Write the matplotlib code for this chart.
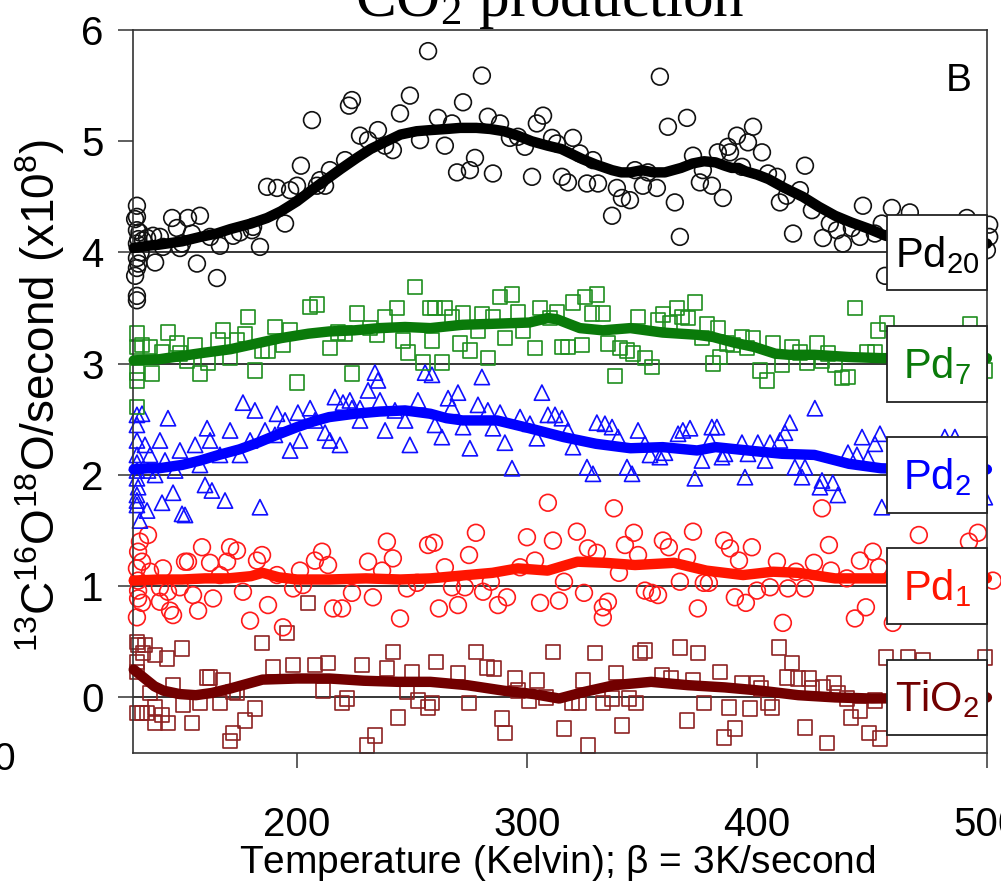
import matplotlib
matplotlib.use("Agg")
import matplotlib.pyplot as plt
from matplotlib.patches import Rectangle

plt.rcParams['font.family'] = ['Liberation Sans', 'DejaVu Sans']
plt.rcParams['mathtext.default'] = 'regular'

# ---- data: (temperature K, signal x1e8) pairs, plotted with a vertical offset per sample
series_names = ['TiO$_2$', 'Pd$_1$', 'Pd$_2$', 'Pd$_7$', 'Pd$_{20}$']
offsets = [0, 1, 2, 3, 4]

tio2_points = [(130.4,0.50),(130.9,0.47),(133.9,0.47),(130.4,0.32),(130.4,0.23),(130.4,-0.14),(132.6,-0.14),
    (133.0,0.40),(138.3,0.38),(143.5,0.35),(150.0,0.44),(146.1,0.11),(136.1,0.04),(138.3,-0.09),(134.8,-0.14),
    (138.3,-0.23),(141.3,-0.16),(143.9,-0.23),(150.4,-0.07),(154.3,-0.23),(160.9,0.18),(162.2,0.18),(167.8,0.15),
    (157.8,-0.05),(166.5,-0.05),(172.2,0.05),(177.4,-0.21),(181.7,-0.10),(173.9,0.04),(184.8,0.49),(189.6,0.27),
    (195.7,0.58),(198.3,0.29),(204.8,0.85),(207.8,0.29),(213.5,0.31),(211.3,0.06),(219.6,-0.05),(228.3,0.29),
    (221.7,-0.01),(230.4,-0.43),(233.9,-0.34),(241.7,0.41),(239.1,0.26),(243.9,-0.18),(247.8,0.05),(250.0,0.23),
    (252.6,-0.03),(257.0,-0.09),(170.9,-0.39),(172.2,-0.32),(260.4,0.32),(277.8,0.41),(270.0,0.22),(282.6,0.27),
    (285.7,0.26),(294.8,0.17),(304.3,0.15),(311.3,0.41),(329.6,0.40),(338.7,0.22),(324.3,0.15),(349.1,0.40),
    (351.3,0.42),(366.5,0.45),(374.3,0.40),(383.9,0.23),(358.7,0.20),(362.6,0.17),(372.2,0.15),(258.7,-0.05),
    (274.8,-0.05),(296.1,0.06),(300.9,-0.03),(308.3,0.00),(319.6,-0.05),(322.6,-0.05),(333.0,-0.05),(337.0,-0.01),
    (344.3,-0.01),(347.4,-0.05),(377.0,-0.05),(387.8,-0.09),(397.0,-0.10),(404.8,-0.05),(406.5,-0.09),(289.1,-0.19),
    (290.4,-0.32),(316.1,-0.28),(341.3,-0.25),(326.5,-0.43),(369.6,-0.21),(385.7,-0.36),(390.4,-0.28),(409.6,0.45),
    (415.2,0.31),(413.0,0.18),(417.8,0.17),(422.6,0.17),(393.5,0.13),(400.0,0.13),(401.7,0.08),(423.9,0.08),
    (428.7,0.09),(433.5,0.13),(435.2,0.04),(439.1,-0.01),(420.9,-0.27),(430.4,-0.41),(440.9,-0.18),(444.8,-0.12),
    (448.7,-0.32),(453.5,-0.37),(456.1,0.36),(451.3,-0.03),(465.7,0.36),(472.2,0.33),(499.1,0.36)]

pd1_points = [(135.2,0.46),(131.7,0.40),(130.9,0.31),(132.6,0.22),(130.4,0.16),(136.1,0.13),(141.7,0.16),
    (151.3,0.22),(152.6,0.22),(158.7,0.35),(162.2,0.21),(169.6,0.22),(170.9,0.35),(173.9,0.32),(182.6,0.23),
    (184.8,0.28),(191.3,0.10),(201.3,0.14),(207.8,0.23),(210.9,0.31),(213.5,0.19),(130.9,0.05),(130.9,-0.04),
    (130.9,-0.11),(132.6,-0.15),(130.4,-0.28),(140.4,-0.01),(143.9,-0.05),(140.4,-0.14),(144.8,-0.22),(146.1,-0.26),
    (154.8,-0.08),(157.0,-0.22),(149.1,-0.01),(163.5,-0.11),(166.5,0.10),(176.5,-0.05),(179.6,-0.31),(187.4,-0.17),
    (193.9,-0.37),(198.3,-0.02),(202.6,0.01),(215.7,-0.20),(219.6,-0.20),(223.9,-0.06),(230.9,0.22),(233.0,-0.10),
    (239.1,0.40),(241.7,0.25),(244.8,-0.29),(237.0,0.14),(247.8,-0.02),(252.2,0.03),(257.0,0.37),(309.1,0.75),
    (337.8,0.70),(428.3,0.70),(277.8,0.48),(300.0,0.44),(311.3,0.41),(321.7,0.49),(346.5,0.48),(359.1,0.41),
    (361.7,0.35),(372.2,0.49),(385.7,0.41),(388.3,0.34),(397.8,0.35),(431.3,0.37),(470.4,0.46),(496.1,0.48),
    (492.2,0.40),(259.6,0.39),(274.8,0.28),(264.3,0.17),(297.0,0.17),(303.5,0.23),(326.5,0.34),(330.4,0.30),
    (342.6,0.37),(348.3,0.28),(369.6,0.26),(392.2,0.23),(408.7,0.22),(424.8,0.21),(432.2,0.14),(444.8,0.23),
    (450.4,0.31),(453.0,0.17),(439.1,0.07),(417.0,0.13),(340.0,0.12),(267.4,-0.01),(273.0,-0.01),(280.9,-0.05),
    (284.3,0.04),(291.3,-0.10),(287.4,-0.17),(261.7,-0.20),(270.0,-0.17),(305.7,-0.15),(313.9,-0.13),(316.1,0.04),
    (324.8,-0.06),(333.0,-0.19),(335.2,-0.14),(333.0,-0.28),(351.3,-0.04),(354.3,-0.06),(357.0,-0.08),(366.5,0.04),
    (376.9,0.03),(379.1,0.03),(374.3,-0.20),(390.4,-0.10),(395.2,-0.15),(400.0,-0.04),(405.7,-0.01),(413.5,-0.02),
    (420.9,-0.02),(411.3,-0.33),(442.6,-0.29),(447.4,-0.19),(459.1,-0.33),(502.6,0.05)]

pd2_points = [(130.4,0.54),(130.4,0.45),(130.4,0.31),(130.4,0.18),(130.4,0.11),(130.4,0.04),(130.4,-0.03),
    (130.9,-0.11),(130.4,-0.18),(130.4,-0.27),(131.7,-0.41),(133.9,0.27),(135.2,0.04),(136.1,0.18),(138.3,0.00),
    (140.4,0.31),(142.6,0.13),(147.0,0.04),(149.1,0.22),(151.3,-0.36),(155.7,0.27),(157.8,0.09),(160.0,-0.09),
    (162.2,0.31),(166.5,0.18),(168.7,-0.23),(170.9,0.40),(175.2,0.18),(179.6,0.31),(181.7,0.58),(186.1,0.40),
    (190.4,0.36),(194.8,0.49),(197.0,0.22),(201.3,0.31),(207.8,0.49),(212.2,0.38),(214.3,0.31),(218.7,0.27),
    (223.0,0.67),(227.4,0.49),(233.9,0.92),(236.1,0.67),(238.3,0.40),(242.6,0.58),(247.0,0.49),(249.1,0.27),
    (252.6,0.67),(255.7,0.92),(132.6,0.55),(143.9,0.51),(176.5,0.65),(191.3,0.55),(200.4,0.56),(205.7,0.60),
    (216.5,0.70),(220.0,0.65),(223.9,0.60),(227.4,0.60),(235.2,0.85),(230.9,0.76),(160.9,0.42),(134.8,-0.32),
    (141.3,-0.25),(146.1,-0.16),(150.0,-0.35),(163.0,-0.14),(183.9,-0.29),(130.4,-0.23),(258.7,0.90),(280.4,0.88),
    (265.7,0.69),(270.0,0.74),(267.4,0.61),(278.7,0.63),(260.0,0.45),(263.0,0.34),(272.2,0.43),(275.2,0.24),
    (283.0,0.58),(285.2,0.42),(288.3,0.56),(290.4,0.29),(293.5,0.06),(297.0,0.52),(301.3,0.46),(304.3,0.33),
    (306.5,0.74),(309.1,0.54),(312.2,0.54),(315.2,0.51),(317.8,0.40),(320.0,0.25),(326.1,0.07),(328.7,0.01),
    (330.4,0.47),(333.9,0.46),(337.0,0.43),(339.6,0.34),(343.5,0.07),(345.7,0.01),(348.3,0.40),(351.3,0.28),
    (353.5,0.18),(357.8,0.16),(360.0,0.20),(365.7,0.37),(367.8,0.40),(370.9,0.42),(373.0,-0.03),(376.1,0.13),
    (379.6,0.31),(380.4,0.43),(382.6,0.43),(425.2,0.60),(414.3,0.47),(412.2,0.38),(410.0,0.31),(400.4,0.29),
    (405.7,0.29),(393.5,0.29),(386.1,0.19),(384.8,0.16),(396.1,0.19),(403.5,0.13),(416.5,0.07),(420.9,0.07),
    (394.8,-0.02),(419.6,-0.02),(428.3,-0.05),(433.0,-0.07),(435.2,-0.18),(427.4,-0.11),(439.6,0.20),(443.5,0.18),
    (448.3,0.15),(445.7,0.34),(451.3,0.28),(453.5,0.37),(481.7,0.34),(486.1,0.34),(499.1,-0.20),(454.3,-0.29)]

pd7_points = [(130.4,0.27),(130.4,0.15),(130.4,-0.08),(130.4,-0.15),(130.4,-0.39),(132.6,0.17),(136.1,0.15),
    (137.0,-0.09),(141.3,0.10),(143.9,0.28),(147.8,0.18),(149.1,0.09),(152.2,0.03),(155.7,0.17),(157.8,-0.09),
    (161.3,0.01),(165.7,0.21),(167.8,0.30),(170.9,0.05),(173.9,0.21),(177.4,0.26),(178.7,0.42),(181.7,-0.06),
    (184.8,0.12),(187.4,0.12),(190.4,0.33),(193.9,0.17),(197.0,0.30),(200.0,-0.17),(205.7,0.51),(208.7,0.53),
    (214.3,0.14),(217.8,0.28),(220.9,0.27),(223.9,-0.09),(226.1,0.45),(231.7,0.32),(234.8,0.26),(238.3,0.42),
    (243.5,0.50),(246.1,0.21),(248.3,0.10),(251.3,0.69),(254.8,0.01),(257.8,0.50),(260.0,0.50),(264.3,0.50),
    (267.4,0.42),(272.2,0.45),(280.4,0.44),(285.2,0.42),(258.7,0.21),(263.0,0.01),(270.9,0.18),(275.2,0.12),
    (278.7,0.30),(283.0,0.05),(288.3,0.60),(293.5,0.62),(296.1,0.46),(290.4,0.23),(298.3,0.30),(303.5,0.14),
    (305.7,0.50),(310.0,0.41),(313.0,0.46),(315.2,0.15),(317.8,0.15),(320.0,0.55),(323.9,0.17),(325.2,0.60),
    (330.4,0.62),(328.3,0.45),(333.0,0.45),(335.2,0.18),(338.3,-0.11),(340.4,0.14),(343.5,0.12),(346.1,0.09),
    (348.3,0.42),(351.3,0.05),(354.3,-0.03),(357.0,0.39),(359.1,0.44),(362.2,0.36),(365.2,0.50),(367.4,0.42),
    (370.0,0.41),(373.0,0.55),(376.1,0.23),(378.3,0.35),(380.9,0.00),(442.6,0.50),(383.0,0.32),(383.9,0.06),
    (387.0,0.18),(389.6,0.17),(393.5,0.24),(395.7,0.14),(398.3,0.23),(401.3,-0.06),(404.3,-0.15),(407.0,0.18),
    (410.9,-0.01),(415.2,0.15),(418.7,0.10),(421.7,0.01),(426.1,0.18),(428.3,0.03),(430.9,0.09),(433.9,-0.01),
    (437.0,-0.13),(439.6,-0.12),(447.8,0.10),(451.3,0.10),(452.6,0.30),(456.5,0.36),(492.6,0.35),(499.0,-0.06)]

pd20_points = [(129.6,0.30),(129.6,-0.21),(130.4,0.42),(130.4,0.32),(130.4,0.20),(130.4,0.08),(130.4,-0.05),
    (130.4,-0.14),(130.4,-0.39),(130.4,-0.43),(131.0,-0.10),(131.0,0.12),(131.5,0.18),(132.0,0.00),(133.0,0.11),
    (134.8,0.13),(137.4,0.15),(138.3,-0.09),(140.4,0.14),(141.7,0.05),(145.7,0.31),(147.8,0.22),(149.1,0.04),
    (150.0,0.08),(152.6,0.31),(154.3,0.17),(156.5,-0.10),(157.8,0.33),(162.2,0.14),(165.2,-0.23),(166.5,0.06),
    (172.2,0.15),(175.2,0.18),(180.4,0.20),(180.9,0.23),(183.9,0.05),(187.0,0.59),(191.3,0.58),(194.8,0.26),
    (197.0,0.56),(200.0,0.60),(201.7,0.78),(206.5,1.19),(208.7,0.60),(210.0,0.65),(212.2,0.60),(214.3,0.74),
    (220.9,0.83),(222.6,1.32),(223.9,1.37),(227.4,1.05),(230.9,1.01),(235.2,1.10),(238.3,0.96),(241.7,0.92),
    (244.8,1.25),(249.1,1.41),(253.5,1.01),(257.0,1.81),(261.3,1.21),(264.3,0.96),(267.4,1.16),(269.6,0.72),
    (272.2,1.35),(275.2,0.74),(277.4,0.85),(280.4,1.59),(283.0,1.22),(285.2,0.71),(288.3,1.16),(292.6,1.03),
    (296.1,1.04),(299.1,0.95),(302.2,0.68),(304.3,1.16),(307.0,1.23),(310.9,1.03),(313.0,0.98),(315.2,0.68),
    (317.8,0.63),(320.0,1.03),(323.0,0.89),(326.1,0.62),(328.7,0.83),(330.9,0.62),(337.0,0.33),(339.1,0.58),
    (341.3,0.49),(344.8,0.47),(347.0,0.74),(350.4,0.60),(352.6,0.72),(356.5,0.58),(357.8,1.58),(361.3,1.13),
    (364.3,0.45),(366.5,0.14),(369.6,1.21),(372.2,0.87),(375.2,0.63),(376.5,0.74),(380.4,0.60),(383.0,0.90),
    (385.2,0.49),(387.4,0.95),(388.3,0.90),(391.3,1.05),(393.5,0.77),(396.1,0.99),(398.3,1.13),(402.2,0.90),
    (404.8,0.71),(408.7,0.68),(410.0,0.45),(413.0,0.51),(415.7,0.17),(418.7,0.56),(420.9,0.78),(423.9,0.38),
    (428.7,0.13),(431.7,0.26),(434.8,0.20),(437.4,0.08),(441.3,0.22),(444.8,0.14),(446.1,0.42),(451.3,0.17),
    (454.3,0.26),(455.7,-0.21),(458.7,0.40),(466.5,0.36),(491.3,0.31),(500.0,0.02),(501.0,0.14),(501.0,0.25)]

# smoothed traces (temperature K, signal x1e8)
tio2_smooth = [(129,0.25),(132,0.20),(135,0.15),(138,0.10),(142,0.06),(149,0.03),(156,0.02),(163,0.04),
    (171,0.08),(178,0.12),(185,0.16),(200,0.17),(214,0.17),(229,0.15),(244,0.14),(258,0.14),(274,0.11),
    (290,0.06),(303,0.03),(314,-0.01),(325,0.05),(338,0.11),(354,0.14),(370,0.11),(386,0.09),(402,0.06),
    (418,0.02),(434,0.00),(450,-0.01),(500,0.00)]
pd1_smooth = [(129,0.05),(140,0.06),(150,0.06),(160,0.07),(170,0.07),(180,0.09),(185,0.12),(192,0.08),
    (200,0.06),(214,0.06),(230,0.07),(245,0.06),(258,0.07),(274,0.10),(285,0.12),(296,0.16),(309,0.14),
    (322,0.22),(334,0.21),(347,0.19),(364,0.21),(378,0.14),(394,0.10),(407,0.13),(418,0.12),(434,0.07),
    (450,0.07),(500,0.07)]
pd2_smooth = [(129,0.05),(135,0.06),(140,0.06),(150,0.09),(158,0.13),(166,0.18),(175,0.23),(183,0.29),
    (190,0.35),(200,0.43),(207,0.48),(214,0.52),(225,0.55),(236,0.57),(247,0.58),(258,0.55),(265,0.51),
    (272,0.49),(287,0.49),(301,0.42),(316,0.34),(330,0.28),(345,0.24),(359,0.25),(374,0.22),(382,0.25),
    (396,0.22),(411,0.19),(425,0.18),(440,0.10),(454,0.06),(470,0.05),(500,0.05)]
pd7_smooth = [(129,0.03),(140,0.04),(150,0.07),(160,0.10),(171,0.13),(182,0.18),(193,0.23),(205,0.27),
    (214,0.29),(225,0.30),(236,0.32),(247,0.33),(258,0.32),(272,0.35),(287,0.36),(301,0.37),(309,0.41),
    (313,0.40),(323,0.32),(333,0.30),(345,0.32),(352,0.30),(359,0.28),(374,0.26),(381,0.24),(390,0.19),
    (399,0.15),(408,0.09),(414,0.08),(425,0.08),(440,0.06),(454,0.05),(470,0.05),(500,0.05)]
pd20_smooth = [(129,0.04),(135,0.06),(140,0.07),(150,0.10),(158,0.14),(165,0.17),(171,0.21),(180,0.26),
    (187,0.31),(193,0.37),(200,0.46),(207,0.57),(213,0.66),(219,0.75),(226,0.85),(232,0.93),(239,1.00),
    (245,1.06),(252,1.09),(258,1.10),(265,1.11),(271,1.12),(278,1.12),(284,1.11),(290,1.09),(296,1.05),
    (302,1.00),(309,0.96),(315,0.93),(320,0.88),(324,0.84),(330,0.79),(337,0.74),(341,0.72),(345,0.72),
    (350,0.74),(355,0.72),(360,0.72),(367,0.76),(372,0.80),(377,0.82),(382,0.81),(386,0.78),(389,0.76),
    (392,0.76),(395,0.73),(400,0.70),(405,0.66),(412,0.58),(420,0.50),(427,0.41),(434,0.33),(441,0.27),
    (449,0.21),(456,0.15),(463,0.12),(480,0.09),(500,0.08)]

x_ticks = [200, 300, 400, 500]
y_ticks = [0, 1, 2, 3, 4, 5, 6]

points = [tio2_points, pd1_points, pd2_points, pd7_points, pd20_points]
smooths = [tio2_smooth, pd1_smooth, pd2_smooth, pd7_smooth, pd20_smooth]
marker_shapes = ['s', 'o', '^', 's', 'o']
marker_sizes = [110, 145, 120, 110, 145]
marker_colors = ['#8e2222', '#ff1a1a', '#1010ff', '#1f8f1f', '#111111']
line_colors = ['#720000', '#ff1500', '#0000ff', '#0a7a0a', '#000000']

fig = plt.figure(figsize=(10.01, 8.90), dpi=100)
ax = fig.add_axes([0.1329, 0.1539, 0.853, 0.8124])
ax.set_xlim(128.7, 500)
ax.set_ylim(-0.5, 6.0)

for off, pts, sm, mk, ms, mc, lc, name in zip(offsets, points, smooths, marker_shapes,
                                               marker_sizes, marker_colors, line_colors, series_names):
    ax.axhline(off, color='black', lw=1.1, zorder=1)
    tx = [p[0] for p in pts]
    ty = [p[1] + off for p in pts]
    ax.scatter(tx, ty, s=ms, marker=mk, facecolors='none', edgecolors=mc,
               linewidths=1.2, zorder=2, clip_on=False)
    lx = [p[0] for p in sm]
    ly = [p[1] + off for p in sm]
    ax.plot(lx, ly, color=lc, lw=7.5, solid_capstyle='round', solid_joinstyle='round',
            zorder=3, clip_on=False)
    ax.add_patch(Rectangle((456.5, off - 0.34), 500 - 456.5, 0.68, facecolor='white',
                           edgecolor='#222222', lw=1.3, zorder=5, clip_on=False))
    ax.text(478.5, off - 0.02, name, color=lc, fontsize=30, ha='center', va='center', zorder=6)

ax.set_xticks(x_ticks)
ax.set_yticks(y_ticks)
ax.set_xticklabels([str(t) for t in x_ticks])
ax.set_yticklabels([str(t) for t in y_ticks])
ax.tick_params(axis='both', direction='out', length=11, width=1.1, color='#333333', labelsize=29)
ax.tick_params(axis='x', pad=27)
ax.tick_params(axis='y', pad=10)
for sp in ax.spines.values():
    sp.set_color('#333333')
    sp.set_linewidth(1.2)

ax.text(0.982, 0.93, 'B', transform=ax.transAxes, fontsize=28, ha='right', va='center')

fig.text(557 / 1001, 1 - 863 / 890, r'Temperature (Kelvin); $\beta$ = 3K/second',
         fontsize=28, ha='center', va='center')
fig.text(40 / 1001, 1 - 395 / 890, r'$^{13}$C$^{16}$O$^{18}$O/second (x10$^{8}$)',
         fontsize=33, rotation=90, ha='center', va='center')
fig.text(550 / 1001, 1 - 16 / 890, r'CO$_2$ production', fontsize=44, ha='center', va='baseline',
         family=['Liberation Serif', 'DejaVu Serif'])
fig.text(4 / 1001, 1 - 760 / 890, '0', fontsize=28, ha='center', va='center')

fig.savefig('out.png', dpi=100)
